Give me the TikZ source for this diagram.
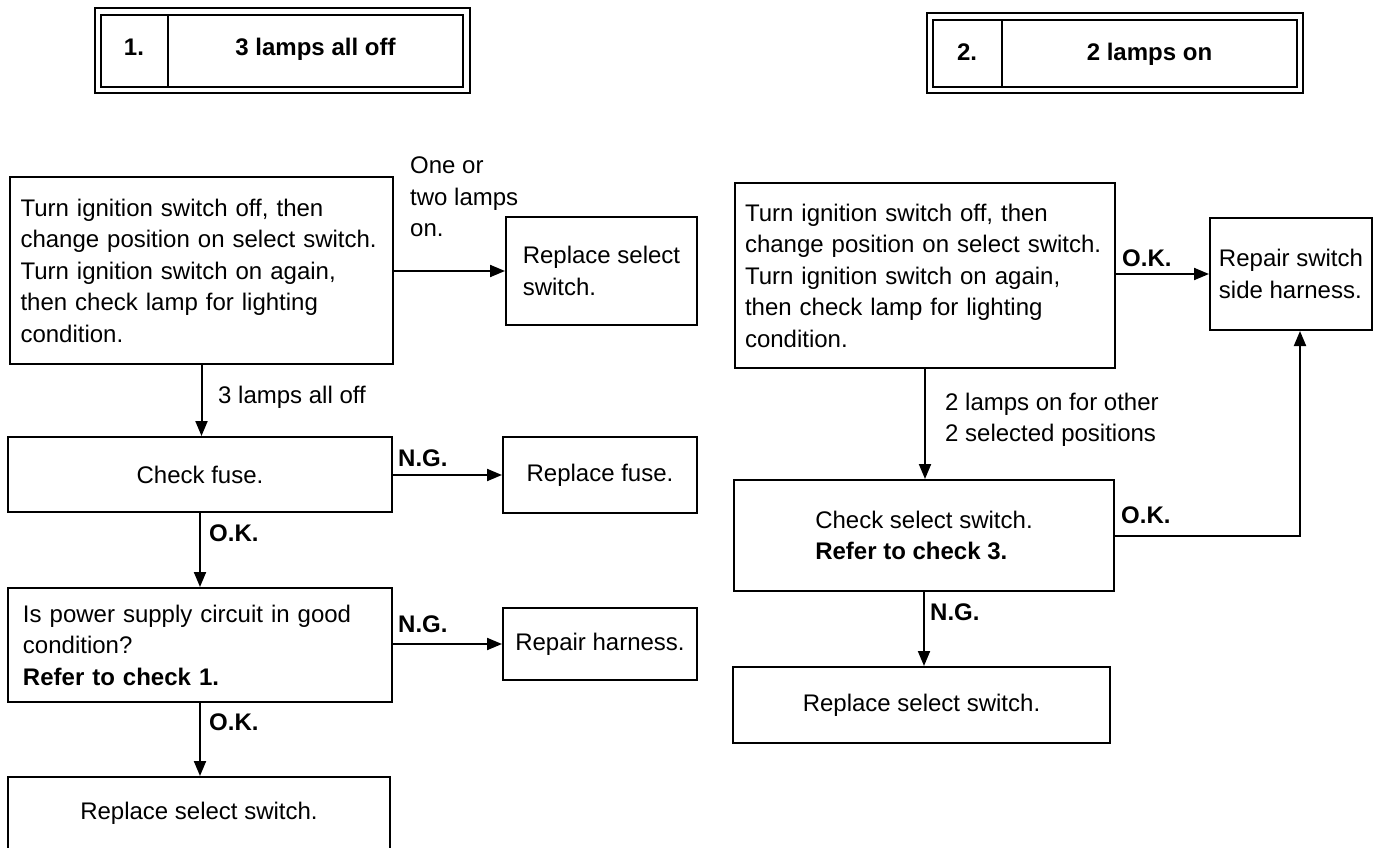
\documentclass[tikz,border=0pt]{standalone}
\usepackage{fontspec}
\setmainfont{Liberation Sans}
\usetikzlibrary{arrows.meta}
\begin{document}
\begin{tikzpicture}[x=1pt,y=-1pt,
  font=\fontsize{24}{31.5}\selectfont,
  bf/.style={font=\fontsize{24}{31.5}\selectfont\bfseries},
  box/.style={draw, line width=2pt, rectangle, inner sep=0pt},
  frame/.style={draw, line width=2.2pt, double, double distance=4.4pt, rectangle, inner sep=0pt},
  arr/.style={line width=2pt, -{Triangle[length=15pt,width=12pt]}},
  lbl/.style={anchor=west, inner sep=0pt, align=left},
  htxt/.style={bf, anchor=base, inner sep=0pt}]
\fill[white] (0,0) rectangle (1387,848);
\useasboundingbox (0,0) rectangle (1387,848);

% headers
\node[frame, minimum width=368.5pt, minimum height=78.5pt] (hd1) at (282.25,50.75) {};
\node[inner sep=0pt, minimum width=67pt, minimum height=72pt] (n1) at (134.5,51) {};
\draw[line width=1.8pt] (n1.north east) -- (n1.south east);
\node[htxt] (h1) at (134,56) {1.};
\node[htxt] (t1) at (315.5,56) {3 lamps all off};

\node[frame, minimum width=370pt, minimum height=73.5pt] (hd2) at (1115,53.25) {};
\node[inner sep=0pt, minimum width=69pt, minimum height=67pt] (n2) at (967.5,53.5) {};
\draw[line width=1.8pt] (n2.north east) -- (n2.south east);
\node[htxt] (h2) at (967,61) {2.};
\node[htxt] (t2) at (1149.5,61) {2 lamps on};

% left column
\node[box, minimum width=383pt, minimum height=187pt, text width=362pt, align=left] (A) at (201.5,270.5)
  {Turn ignition switch off, then\\change position on select switch.\\Turn ignition switch on again,\\then check lamp for lighting\\condition.};
\node[box, minimum width=191pt, minimum height=108pt, align=left] (B) at (601.5,271) {Replace select\\switch.};
\node[box, minimum width=384pt, minimum height=75pt] (C) at (200,474.5) {Check fuse.};
\node[box, minimum width=194pt, minimum height=76pt] (D) at (600,475) {Replace fuse.};
\node[box, minimum width=384pt, minimum height=114pt, text width=354pt, align=left] (E) at (200,645)
  {Is power supply circuit in good\\condition?\\\textbf{Refer to check 1.}};
\node[box, minimum width=194pt, minimum height=72pt] (F) at (600,644) {Repair harness.};
\node[box, minimum width=382pt, minimum height=73pt] (G) at (199,813.5) {Replace select switch.};

% right column
\node[box, minimum width=380pt, minimum height=185pt, text width=360pt, align=left] (H) at (925,275.5)
  {Turn ignition switch off, then\\change position on select switch.\\Turn ignition switch on again,\\then check lamp for lighting\\condition.};
\node[box, minimum width=162pt, minimum height=112pt, align=left] (I) at (1291,274) {Repair switch\\side harness.};
\node[box, minimum width=380pt, minimum height=111pt, align=left] (J) at (924,535.5)
  {Check select switch.\\\textbf{Refer to check 3.}};
\node[box, minimum width=377pt, minimum height=76pt] (K) at (921.5,705) {Replace select switch.};

% connectors
\draw[arr] (A.east |- B.west) -- (B.west);
\draw[arr] (A.south) -- (A.south |- C.north);
\draw[arr] (C.east |- D.west) -- (D.west);
\draw[arr] (C.south) -- (C.south |- E.north);
\draw[arr] (E.east |- F.west) -- (F.west);
\draw[arr] (E.south) -- (E.south |- G.north);
\draw[arr] (H.east |- I.west) -- (I.west);
\draw[arr] (H.south) -- (H.south |- J.north);
\draw[arr] (J.east) -| ([xshift=9pt]I.south);
\draw[arr] (J.south) -- (J.south |- K.north);

% labels
\node[lbl] (l1) at (410,197) {One or\\two lamps\\on.};
\node[lbl] (l2) at (218,397) {3 lamps all off};
\node[lbl,bf] (l3) at (398,458) {N.G.};
\node[lbl,bf] (l4) at (209,533) {O.K.};
\node[lbl,bf] (l5) at (398,624) {N.G.};
\node[lbl,bf] (l6) at (209,722) {O.K.};
\node[lbl,bf] (l7) at (1122,258) {O.K.};
\node[lbl] (l8) at (945,420) {2 lamps on for other\\2 selected positions};
\node[lbl,bf] (l9) at (1121,515) {O.K.};
\node[lbl,bf] (l10) at (930,612) {N.G.};
\end{tikzpicture}
\end{document}
